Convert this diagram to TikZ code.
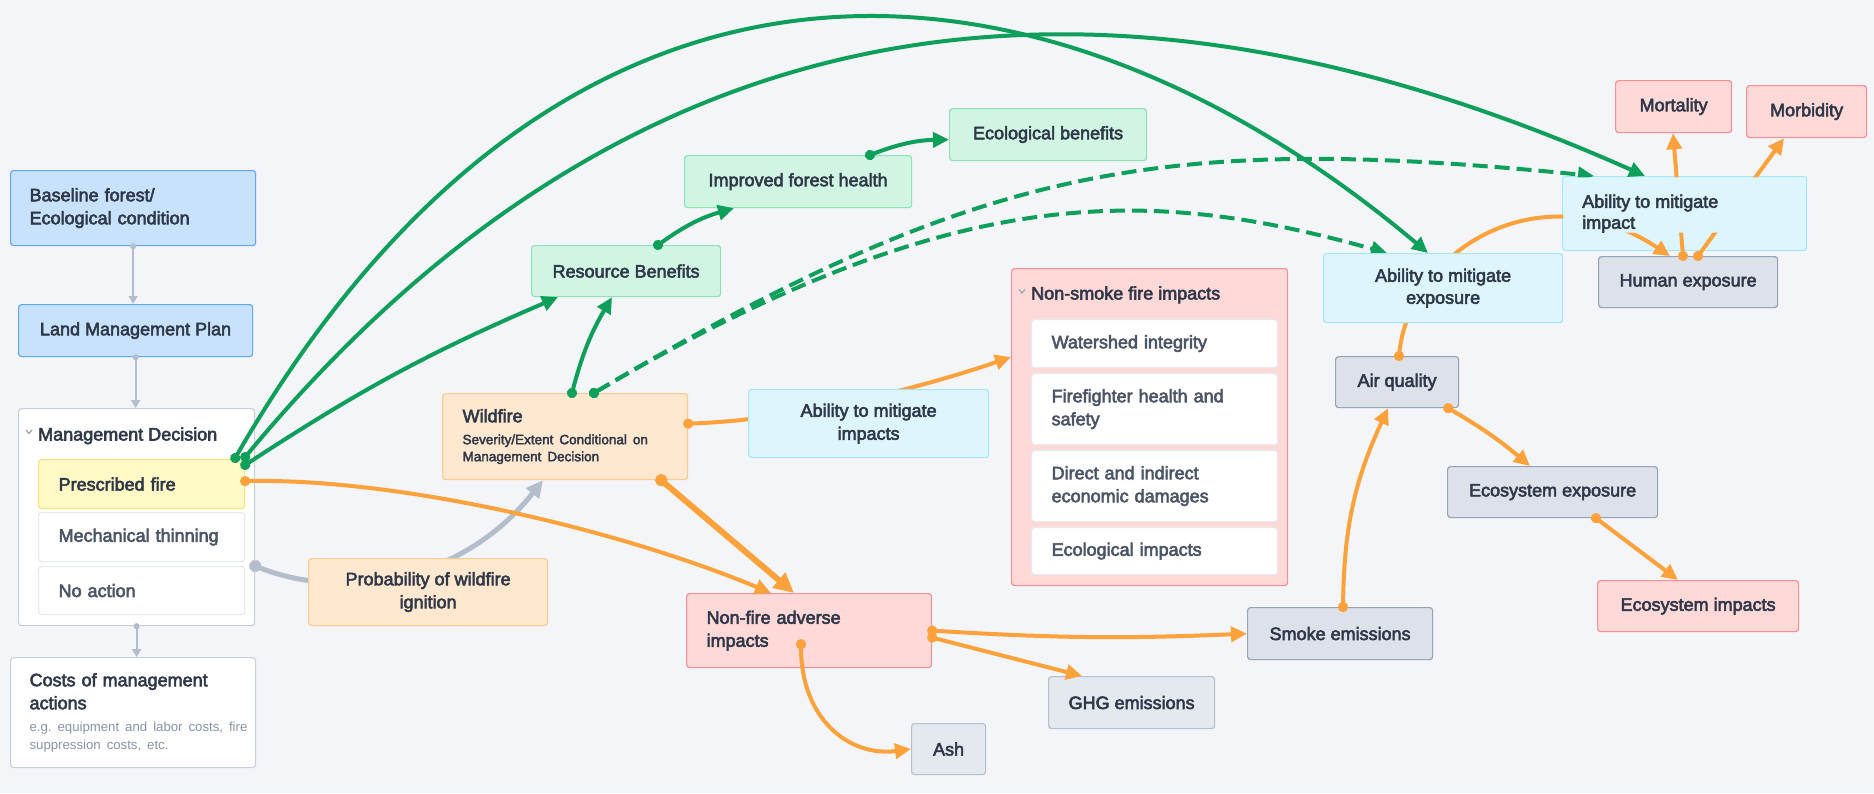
\documentclass[tikz,border=0pt]{standalone}
\usepackage{fontspec}
\setmainfont{Liberation Sans}
\newfontfamily\medfont{Liberation Sans}[FakeBold=3]
\usetikzlibrary{arrows.meta,calc}
\definecolor{bg}{HTML}{F3F5F9}
\definecolor{bluefill}{HTML}{C8E2FD}
\definecolor{blueline}{HTML}{62A8F4}
\definecolor{greenfill}{HTML}{D0F5E3}
\definecolor{greenline}{HTML}{8FE2B4}
\definecolor{peachfill}{HTML}{FFE8CF}
\definecolor{peachline}{HTML}{FCCB92}
\definecolor{cyanfill}{HTML}{DDF6FE}
\definecolor{cyanline}{HTML}{A6E6FA}
\definecolor{pinkfill}{HTML}{FFD8D8}
\definecolor{pinkline}{HTML}{F69092}
\definecolor{grayfill}{HTML}{DCE1EA}
\definecolor{grayline}{HTML}{98A3B5}
\definecolor{lgrayfill}{HTML}{E4E8EF}
\definecolor{lgrayline}{HTML}{B6C0CD}
\definecolor{yellowfill}{HTML}{FEF9C5}
\definecolor{yellowline}{HTML}{FBE27A}
\definecolor{contline}{HTML}{C9D0DA}
\definecolor{itemline}{HTML}{E6E9EE}
\definecolor{txt}{HTML}{2F3848}
\definecolor{itemtxt}{HTML}{4B5566}
\definecolor{subtxt}{HTML}{8A93A3}
\definecolor{egreen}{HTML}{0E9F5B}
\definecolor{eorange}{HTML}{FDA13B}
\definecolor{egray}{HTML}{B3BDCC}
\definecolor{chev}{HTML}{9AA3B2}
\pgfdeclarelayer{over}
\pgfsetlayers{main,over}
\begin{document}
\begin{tikzpicture}[x=1pt,y=-1pt,
 box/.style={draw, rounded corners=3pt, line width=1.2pt, inner sep=0pt, anchor=north west, align=center, text=txt, font=\medfont\fontsize{18}{23}\selectfont},
 bluebox/.style={box, fill=bluefill, draw=blueline},
 greenbox/.style={box, fill=greenfill, draw=greenline},
 peachbox/.style={box, fill=peachfill, draw=peachline},
 cyanbox/.style={box, fill=cyanfill, draw=cyanline},
 pinkbox/.style={box, fill=pinkfill, draw=pinkline},
 graybox/.style={box, fill=grayfill, draw=grayline},
 lgraybox/.style={box, fill=lgrayfill, draw=lgrayline},
 yellowbox/.style={box, fill=yellowfill, draw=yellowline},
 contbox/.style={box, fill=white, draw=contline},
 itembox/.style={box, fill=white, draw=itemline, text=itemtxt},
 lefttext/.style={align=left, text width=#1},
 plaintext/.style={inner sep=0pt, text=txt, font=\medfont\fontsize{18}{23}\selectfont},
 gline/.style={line width=4pt, draw=egreen, shorten <=-5pt, {Circle[length=10pt]}-{Triangle[length=16pt,width=15pt]}},
 gdash/.style={gline, dash pattern=on 15pt off 7pt},
 oline/.style={line width=4pt, draw=eorange, shorten <=-5pt, {Circle[length=10pt]}-{Triangle[length=16pt,width=15pt]}},
 othick/.style={line width=6pt, draw=eorange, shorten <=-6pt, {Circle[length=12pt]}-{Triangle[length=20pt,width=19pt]}},
 grline/.style={line width=5pt, draw=egray, shorten <=-6pt, {Circle[length=12pt]}-{Triangle[length=17pt,width=16pt]}},
 smallline/.style={line width=1.8pt, draw=egray, shorten <=-3pt, {Circle[length=6pt]}-{Triangle[length=8pt,width=9pt]}},
]
\useasboundingbox (0,0) rectangle (1874,793);
\fill[bg] (0,0) rectangle (1874,793);

% left column
\node[bluebox, minimum width=245pt, minimum height=75pt, lefttext=207pt, inner xsep=19pt] (base) at (10,170) {Baseline forest/\\Ecological condition};
\node[bluebox, minimum width=234pt, minimum height=52pt] (lmp) at (18,304) {Land Management Plan};
\node[contbox, minimum width=236pt, minimum height=217pt] (md) at (18,408) {};
\node[plaintext, anchor=base west] (mdtitle) at (38,440.5) {Management Decision};
\draw[chev, line width=1.2pt] (26,430) -- (29,433.5) -- (32,430);
\node[yellowbox, minimum width=206pt, minimum height=49pt, lefttext=166pt, inner xsep=20pt] (pf) at (38,459) {Prescribed fire};
\node[itembox, minimum width=206pt, minimum height=49pt, lefttext=166pt, inner xsep=20pt] (mt) at (38,512) {Mechanical thinning};
\node[itembox, minimum width=206pt, minimum height=48pt, lefttext=166pt, inner xsep=20pt] (na) at (38,566) {No action};
\node[contbox, minimum width=245pt, minimum height=110pt, lefttext=207pt, inner xsep=19pt] (costs) at (10,657) {Costs of management\\actions\par\vspace{4pt}{\normalfont\fontsize{13.2}{18}\selectfont\color{subtxt}\mbox{e.g.\ equipment and labor costs, fire}\\\mbox{suppression costs, etc.}\par}};

% middle
\node[peachbox, minimum width=245pt, minimum height=86pt, lefttext=205pt, inner xsep=20pt] (wild) at (442,393) {Wildfire\par\vspace{5pt}{\fontsize{13.5}{17}\selectfont Severity/Extent Conditional on\\Management Decision\par}};
\node[greenbox, minimum width=189pt, minimum height=51pt] (rb) at (531,245) {Resource Benefits};
\node[greenbox, minimum width=227pt, minimum height=52pt] (ifh) at (684,155) {Improved forest health};
\node[greenbox, minimum width=197pt, minimum height=52pt] (eb) at (949,108) {Ecological benefits};
\node[pinkbox, minimum width=276pt, minimum height=317pt] (nsf) at (1011,268) {};
\node[plaintext, anchor=base west] (nsftitle) at (1031,299.5) {Non-smoke fire impacts};
\draw[chev, line width=1.2pt] (1019,289.5) -- (1022,293) -- (1025,289.5);
\node[itembox, minimum width=246pt, minimum height=48pt, lefttext=206pt, inner xsep=20pt] (ws) at (1031,319) {Watershed integrity};
\node[itembox, minimum width=246pt, minimum height=71pt, lefttext=206pt, inner xsep=20pt] (ff) at (1031,373) {Firefighter health and\\safety};
\node[itembox, minimum width=246pt, minimum height=71pt, lefttext=206pt, inner xsep=20pt] (dd) at (1031,450) {Direct and indirect\\economic damages};
\node[itembox, minimum width=246pt, minimum height=47pt, lefttext=206pt, inner xsep=20pt] (ei) at (1031,527) {Ecological impacts};
\node[pinkbox, minimum width=245pt, minimum height=74pt, lefttext=205pt, inner xsep=20pt] (nfa) at (686,593) {Non-fire adverse\\impacts};
\node[lgraybox, minimum width=74pt, minimum height=51pt] (ash) at (911,723) {Ash};
\node[lgraybox, minimum width=166pt, minimum height=52pt] (ghg) at (1048,676) {GHG emissions};
\node[graybox, minimum width=185pt, minimum height=52pt] (smoke) at (1247,607) {Smoke emissions};

% right
\node[graybox, minimum width=123pt, minimum height=51pt] (aq) at (1335,356) {Air quality};
\node[graybox, minimum width=210pt, minimum height=51pt] (ee) at (1447,466) {Ecosystem exposure};
\node[pinkbox, minimum width=201pt, minimum height=51pt] (eimp) at (1597,580) {Ecosystem impacts};
\node[cyanbox, minimum width=244pt, minimum height=74pt] (amimp) at (1562,176) {};
\node[graybox, minimum width=179pt, minimum height=51pt] (hum) at (1598,256) {Human exposure};
\node[pinkbox, minimum width=116pt, minimum height=52pt] (mort) at (1615,80) {Mortality};
\node[pinkbox, minimum width=120pt, minimum height=52pt] (morb) at (1746,85) {Morbidity};

\begin{pgfonlayer}{over}
\node[peachbox, minimum width=239pt, minimum height=67pt] (prob) at (308,558) {Probability of wildfire\\ignition};
\node[cyanbox, minimum width=240pt, minimum height=68pt] (ami) at (748,389) {Ability to mitigate\\impacts};
\node[cyanbox, minimum width=239pt, minimum height=69pt, font=\medfont\fontsize{18}{22}\selectfont] (ame) at (1323,253) {Ability to mitigate\\exposure};
\end{pgfonlayer}

% connectors
\draw[smallline] (base.south) -- (base.south |- lmp.north);
\draw[smallline] (lmp.south) -- (lmp.south |- md.north);
\draw[smallline] (md.south) -- (md.south |- costs.north);
\draw[grline] (md.east |- na.north) .. controls (340,600) and (460,585) .. ($(wild.south west)+(101,0)$);

\draw[gline] ($(pf.north east)+(-10,-1)$) .. controls (564,-112) and (1044,-70) .. ($(ame.north west)+(105,0)$);
\draw[gline] ($(pf.north east)+(0,-2)$) .. controls (628,-5) and (1097,-68) .. ($(amimp.north west)+(83,0)$);
\draw[gline] ($(pf.north east)+(0,6)$) to[bend left=5] ($(rb.south west)+(27,0)$);
\draw[gline] ($(wild.north west)+(130,0)$) to[bend left=8] ($(rb.south west)+(81,0)$);
\draw[gdash] ($(wild.north west)+(152,0)$) .. controls (981,164) and (1160,133) .. ($(amimp.north west)+(32,0)$);
\draw[gdash] ($(wild.north west)+(152,0)$) .. controls (955,180) and (1147,186) .. ($(ame.north west)+(64,0)$);
\draw[gline] ($(rb.north west)+(127,0)$) to[bend left=10] ($(ifh.south west)+(50,0)$);
\draw[gline] ($(ifh.north west)+(186,0)$) to[bend left=10] ($(eb.west)+(0,5)$);

\draw[oline] ($(pf.east)+(0,-3)$) .. controls (400,478) and (620,530) .. ($(nfa.north west)+(85,0)$);
\draw[othick] ($(wild.south east)+(-27,0)$) -- ($(nfa.north west)+(108,0)$);
\draw[oline] ($(wild.east)+(0,-13)$) .. controls (800,420) and (930,385) .. ($(nsf.north west)+(0,89)$);
\draw[oline] ($(nfa.south west)+(115,-24)$) .. controls (801,720) and (850,757) .. (ash.west);
\draw[oline] (nfa.east) to[bend right=3] (smoke.west);
\draw[oline] ($(nfa.east)+(0,7)$) -- ($(ghg.north west)+(34,0)$);
\draw[oline] ($(smoke.north west)+(96,0)$) to[bend left=12] ($(aq.south west)+(53,0)$);
\draw[oline] ($(aq.south east)+(-11,0)$) to[bend left=5] ($(ee.north west)+(83,0)$);
\draw[oline] ($(ee.south west)+(149,0)$) -- ($(eimp.north west)+(81,0)$);
\draw[oline] ($(aq.north west)+(64,0)$) .. controls (1410,250) and (1540,170) .. ($(hum.north west)+(72,0)$);
\draw[oline] ($(hum.north west)+(85,0)$) -- ($(mort.south west)+(58,0)$);
\draw[oline] ($(hum.north west)+(100,0)$) -- ($(morb.south west)+(38,0)$);

\begin{pgfonlayer}{over}
\fill[cyanfill, rounded corners=2pt] ($(amimp.north west)+(1.4,1.4)$) rectangle ($(amimp.east)+(-1.4,19)$);
\node[plaintext, anchor=west, align=left, font=\medfont\fontsize{18}{21}\selectfont] (amimptxt) at ($(amimp.west)+(20,0)$) {Ability to mitigate\\impact};
\end{pgfonlayer}
\end{tikzpicture}
\end{document}
